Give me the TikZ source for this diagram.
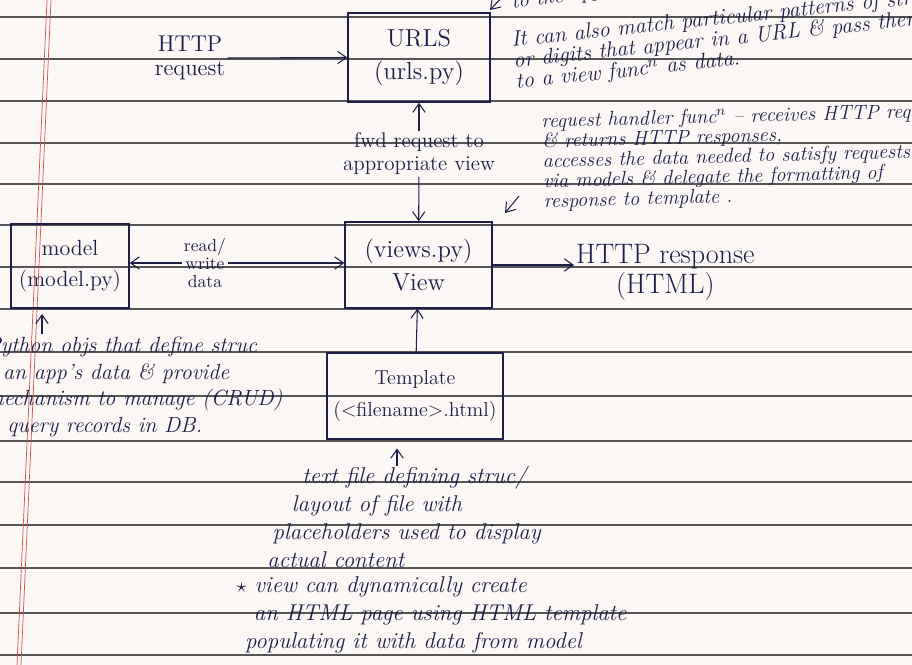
\documentclass[tikz,border=0pt]{standalone}
\usepackage{fontspec}
\usepackage{xcolor}
\definecolor{ink}{RGB}{30,30,72}
\definecolor{paper}{RGB}{251,247,244}
\definecolor{ruling}{RGB}{85,85,85}
\definecolor{margin}{RGB}{210,80,80}
\usetikzlibrary{arrows.meta,positioning}

\begin{document}
\begin{tikzpicture}[x=0.02cm, y=-0.02cm,
  pbox/.style={rectangle, draw=ink, thick, align=center, text=ink,
               font=\fontsize{14}{19}\selectfont, inner sep=2pt},
  plabel/.style={align=center, text=ink, inner sep=1pt},
  pnote/.style={align=left, text=ink, inner sep=0pt,
                font=\fontsize{11.5}{11.4}\selectfont\itshape},
  parr/.style={-{Straight Barb[length=5pt,width=7pt]}, semithick, draw=ink}
]
% Page
\useasboundingbox (0,0) rectangle (912,665);
\clip (0,0) rectangle (912,665);
\fill[paper] (0,0) rectangle (912,665);
\foreach \ry in {17,59,101,143,184,225,267,309,352,396,441,482,525,568,613,655}
  \draw[ruling, line width=0.9pt] (0,\ry) -- (912,\ry);
\draw[margin, thin] (47,0) -- (17,665);
\draw[margin, thin] (51,0) -- (21,665);

% Boxes
\node[pbox, minimum width=2.84cm, minimum height=1.78cm] (urls)  at (419,57.5) {URLS\\(urls.py)};
\node[pbox, minimum width=2.94cm, minimum height=1.72cm] (views) at (418.5,265) {(views.py)\\View};
\node[pbox, minimum width=2.36cm, minimum height=1.68cm,
      font=\fontsize{12.5}{18}\selectfont]               (model) at (70,266)   {model\\(model.py)};
\node[pbox, minimum width=3.52cm, minimum height=1.72cm,
      font=\fontsize{11.5}{18}\selectfont]               (tmpl)  at (415,396)  {Template\\(<filename>.html)};

% Connector labels
\node[plabel, font=\fontsize{13}{14}\selectfont]            (httpreq)  at (190,58)  {HTTP\\request};
\node[plabel, font=\fontsize{12}{13}\selectfont]            (fwd)      at (419,154) {fwd request to\\appropriate view};
\node[plabel, font=\fontsize{10}{10}\selectfont]            (rwd)      at (205,263) {read/\\write\\data};
\node[plabel, font=\fontsize{16}{17}\selectfont, anchor=west] (httpresp) at (574,272) {HTTP response\\(HTML)};

% Arrows
\draw[parr] (httpreq.east) -- (urls.west);
\draw[parr] (fwd) -- (urls);
\draw[parr] (fwd) -- (views);
\draw[parr] (rwd.west) -- (rwd.west -| model.east);
\draw[parr] (rwd.east) -- (rwd.east -| views.west);
\draw[parr] (views.east) -- (views.east -| httpresp.west);
\draw[parr] (tmpl) -- (views);

% Notes
\node[pnote, font=\fontsize{12}{12}\selectfont\itshape, rotate=8, anchor=base west] (urlnote0) at (512,9) {to the appropriate view};
\node[pnote, font=\fontsize{12.5}{12}\selectfont\itshape, rotate=6, anchor=north west] (urlnote) at (510,31)
  {It can also match particular patterns of strings\\or digits that appear in a URL \& pass them\\to a view func$^{n}$ as data.};
\node[pnote, rotate=1.5, anchor=north west] (viewnote) at (541,113)
  {request handler func$^{n}$ -- receives HTTP requests\\\& returns HTTP responses,\\accesses the data needed to satisfy requests\\via models \& delegate the formatting of\\response to template .};
\node[pnote, font=\fontsize{12.5}{15.1}\selectfont\itshape, anchor=north west] (modelnote) at (-14,337)
  {Python objs that define struc\\\hspace*{9.6pt}an app's data \& provide\\mechanism to manage (CRUD)\\\hspace*{12pt}query records in DB.};
\node[pnote, font=\fontsize{13}{16}\selectfont\itshape, anchor=north west] (tmplnote) at (267,466)
  {\hspace*{20pt}text file defining struc/\\\hspace*{14pt}layout of file with\\\hspace*{3pt}placeholders used to display\\actual content};
\node[pnote, font=\fontsize{13}{16}\selectfont\itshape, anchor=north west] (starnote) at (236,576)
  {{\large$\star$} view can dynamically create\\\hspace*{10pt}an HTML page using HTML template\\\hspace*{5pt}populating it with data from model};

% Note pointers
\coordinate (mnote) at (42,334);
\draw[parr, shorten >=3pt] (mnote) -- (mnote |- model.south);
\coordinate (tnote) at (397,466);
\draw[parr, shorten >=5pt] (tnote) -- (tnote |- tmpl.south);
\coordinate (vnote) at (519,196);
\coordinate (vtip)  at (505,213);
\draw[parr] (vnote) -- (vtip);
\coordinate (unote) at (503,-4);
\coordinate (utip)  at (490,10);
\draw[parr] (unote) -- (utip);
\end{tikzpicture}
\end{document}
